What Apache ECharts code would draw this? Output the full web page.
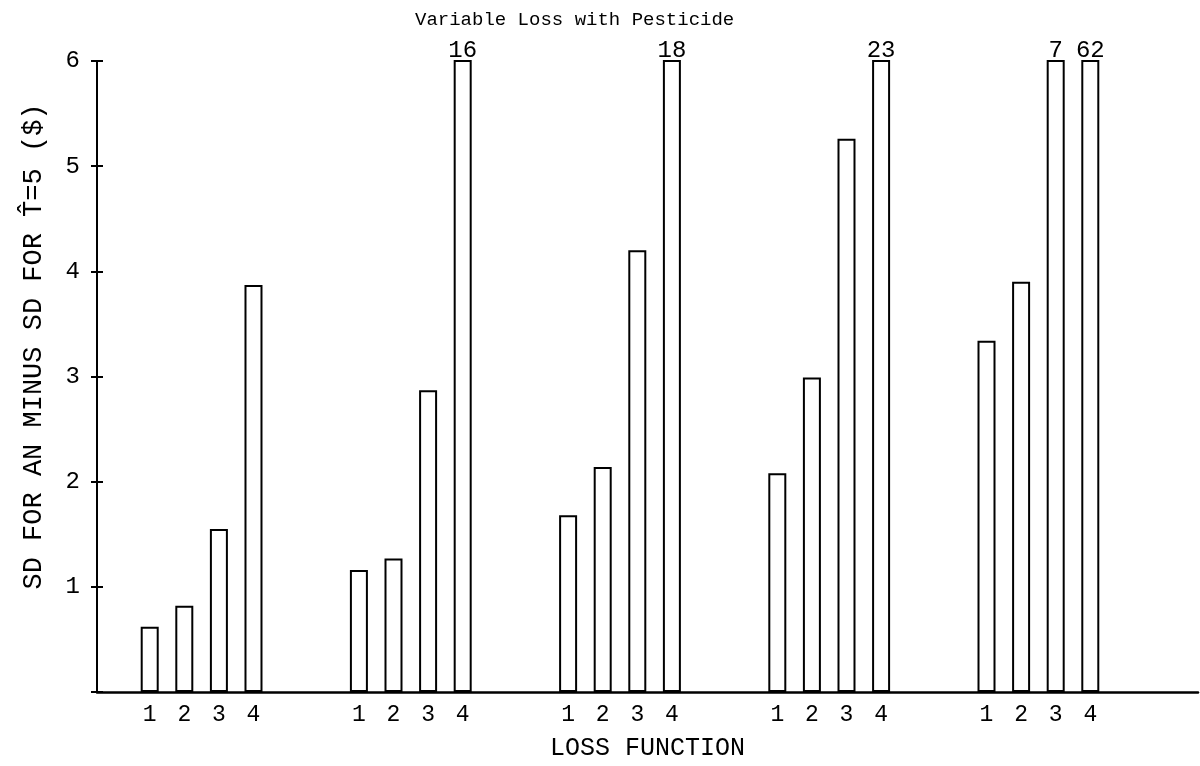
<!DOCTYPE html>
<html>
<head>
<meta charset="utf-8">
<script src="https://cdn.jsdelivr.net/npm/echarts@6/dist/echarts.min.js"></script>
<style>
  html, body { margin: 0; padding: 0; background: #fff; }
  #chart { width: 1200px; height: 766px; }
</style>
</head>
<body>
<div id="chart"></div>
<script>
// Five pesticide scenarios, each with four loss functions.
const groups = ['G1', 'G2', 'G3', 'G4', 'G5'];
const lossFunctions = ['1', '2', '3', '4'];

// SD for AN minus SD for T-hat = 5, in dollars, per loss function
const sdLoss1 = [0.62, 1.16, 1.68, 2.08, 3.34];
const sdLoss2 = [0.82, 1.27, 2.14, 2.99, 3.90];
const sdLoss3 = [1.55, 2.87, 4.20, 5.26, 7];
const sdLoss4 = [3.87, 16, 18, 23, 62];

const yTicks = [0, 1, 2, 3, 4, 5, 6];
const Y_MAX = yTicks[yTicks.length - 1];

const FONT = '"Liberation Mono", "DejaVu Sans Mono", monospace';
const INK = '#000';
const BAR_W = 18;
const BAR_STEP = 34.6;

const chart = echarts.init(document.getElementById('chart'), null, { renderer: 'canvas' });

const barSeries = [sdLoss1, sdLoss2, sdLoss3, sdLoss4].map((values, i) => ({
  type: 'bar',
  name: lossFunctions[i],
  data: values,
  xAxisIndex: 0,
  yAxisIndex: 0,
  barWidth: BAR_W,
  barGap: ((BAR_STEP - BAR_W) / BAR_W * 100).toFixed(1) + '%',
  clip: true,
  itemStyle: { color: '#fff', borderColor: INK, borderWidth: 2 },
  // bars running past the top of the scale are cut there and carry their value
  label: {
    show: true,
    position: 'top',
    distance: -3,
    formatter: p => (p.value > Y_MAX ? String(p.value) : ''),
    fontFamily: FONT,
    fontSize: 24,
    color: INK
  },
  emphasis: { disabled: true }
}));

const tickRich = {
  d: { width: BAR_STEP, align: 'center', fontFamily: FONT, fontSize: 23, color: INK }
};

chart.setOption({
  animation: false,
  backgroundColor: '#fff',
  title: {
    text: 'Variable Loss with Pesticide',
    left: 410,
    top: 5,
    textStyle: { fontFamily: FONT, fontSize: 19, fontWeight: 'normal', color: INK }
  },
  grid: [
    { left: 97, right: 57, top: 61, bottom: 74 },
    { left: 97, right: 2, top: 61, bottom: 74 }
  ],
  xAxis: [
    {
      type: 'category',
      gridIndex: 0,
      data: groups,
      axisLine: { show: false },
      axisTick: { show: false },
      axisLabel: {
        margin: 11,
        formatter: () => lossFunctions.map(f => '{d|' + f + '}').join(''),
        rich: tickRich
      }
    },
    {
      type: 'value',
      gridIndex: 1,
      min: 0,
      max: 1,
      name: 'LOSS FUNCTION',
      nameLocation: 'middle',
      nameGap: 44,
      nameTextStyle: { fontFamily: FONT, fontSize: 25, color: INK },
      axisLine: { show: true, lineStyle: { color: INK, width: 2.5 } },
      axisTick: { show: false },
      axisLabel: { show: false },
      splitLine: { show: false }
    }
  ],
  yAxis: [
    {
      type: 'value',
      gridIndex: 0,
      min: yTicks[0],
      max: Y_MAX,
      interval: 1,
      name: 'SD FOR AN MINUS SD FOR T\u0302=5 ($)',
      nameLocation: 'middle',
      nameGap: 50,
      nameTextStyle: { fontFamily: FONT, fontSize: 27, color: INK, padding: [0, 0, 0, 60] },
      axisLine: { show: true, lineStyle: { color: INK, width: 2 } },
      axisTick: { show: true, length: 6, lineStyle: { color: INK, width: 2 } },
      axisLabel: {
        margin: 17,
        fontFamily: FONT,
        fontSize: 24,
        color: INK,
        formatter: v => (v === 0 ? '' : String(v))
      },
      splitLine: { show: false }
    },
    {
      // inner half of the cross-shaped tick marks
      type: 'value',
      gridIndex: 1,
      min: yTicks[0],
      max: Y_MAX,
      interval: 1,
      axisLine: { show: false },
      axisTick: { show: true, inside: true, length: 6, lineStyle: { color: INK, width: 2 } },
      axisLabel: { show: false },
      splitLine: { show: false }
    }
  ],
  series: barSeries
});
</script>
</body>
</html>
